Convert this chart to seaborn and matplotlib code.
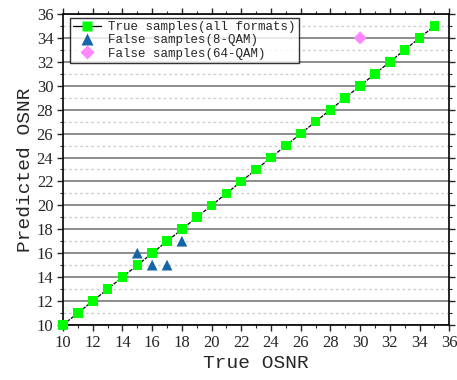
import matplotlib
matplotlib.use("Agg")
import matplotlib.pyplot as plt
from matplotlib.ticker import MultipleLocator
from matplotlib.lines import Line2D
import seaborn as sns
import pandas as pd

true_osnr = list(range(10, 36))
pred_true = list(range(10, 36))
qam8_x = [15, 16, 17, 18]
qam8_y = [16, 15, 15, 17]
qam64_x = [30]
qam64_y = [34]

sns.set_style("white")
fig = plt.figure(figsize=(4.57, 3.80), dpi=100)
ax = fig.add_axes([0.138, 0.145, 0.845, 0.818])

df_true = pd.DataFrame({"x": true_osnr, "y": pred_true})
df8 = pd.DataFrame({"x": qam8_x, "y": qam8_y})
df64 = pd.DataFrame({"x": qam64_x, "y": qam64_y})

# grid lines
for v in range(10, 37, 2):
    ax.axhline(v, color="#8c8c8c", lw=1.4, zorder=0)
for v in range(11, 36, 2):
    ax.axhline(v, color="#d0d0d0", lw=1.0, ls=(0, (2, 2)), zorder=0)

sns.lineplot(data=df_true, x="x", y="y", ax=ax, color="black", lw=0.9,
             ls=(0, (3, 1)), zorder=2, legend=False)
sns.scatterplot(data=df_true, x="x", y="y", ax=ax, marker="s", s=48,
                color="#00ff00", edgecolor="none", zorder=3, legend=False,
                clip_on=False)
sns.scatterplot(data=df8, x="x", y="y", ax=ax, marker="^", s=60,
                color="#1565a8", edgecolor="none", zorder=3, legend=False)
sns.scatterplot(data=df64, x="x", y="y", ax=ax, marker="D", s=45,
                color="#ff88ff", edgecolor="none", zorder=3, legend=False)

handles = [
    Line2D([], [], color="black", lw=0.9, marker="s", markersize=7,
           markerfacecolor="#00ff00", markeredgecolor="none"),
    Line2D([], [], ls="none", marker="^", markersize=8,
           markerfacecolor="#1565a8", markeredgecolor="none"),
    Line2D([], [], ls="none", marker="D", markersize=7,
           markerfacecolor="#ff88ff", markeredgecolor="none"),
]
labels = ["True samples(all formats)", "False samples(8-QAM)",
          "False samples(64-QAM)"]
leg = ax.legend(handles, labels, loc="upper left", bbox_to_anchor=(0.012, 0.995),
                prop={"family": "Liberation Mono", "size": 9},
                frameon=True, fancybox=False, edgecolor="black",
                borderpad=0.25, labelspacing=0.1, handlelength=2.2,
                handletextpad=0.6, borderaxespad=0.2)
leg.get_frame().set_linewidth(1.0)

ax.set_xlim(10, 36)
ax.set_ylim(10, 36)
ax.xaxis.set_major_locator(MultipleLocator(2))
ax.xaxis.set_minor_locator(MultipleLocator(1))
ax.yaxis.set_major_locator(MultipleLocator(2))
ax.yaxis.set_minor_locator(MultipleLocator(1))
ax.tick_params(which="major", direction="out", length=4, width=1,
               labelsize=12, pad=3)
ax.tick_params(which="minor", direction="out", length=2.5, width=0.8)
ax.tick_params(axis="both", which="both", bottom=True, left=True,
               top=True, right=True, labeltop=False, labelright=False)
for lab in ax.get_xticklabels() + ax.get_yticklabels():
    lab.set_family("Liberation Serif")
for sp in ax.spines.values():
    sp.set_color("black")
    sp.set_linewidth(1.2)

ax.set_xlabel("True OSNR", fontsize=14, family="Liberation Mono", labelpad=3)
ax.set_ylabel("Predicted OSNR", fontsize=14, family="Liberation Mono", labelpad=2)

fig.savefig("out.png", dpi=100)
